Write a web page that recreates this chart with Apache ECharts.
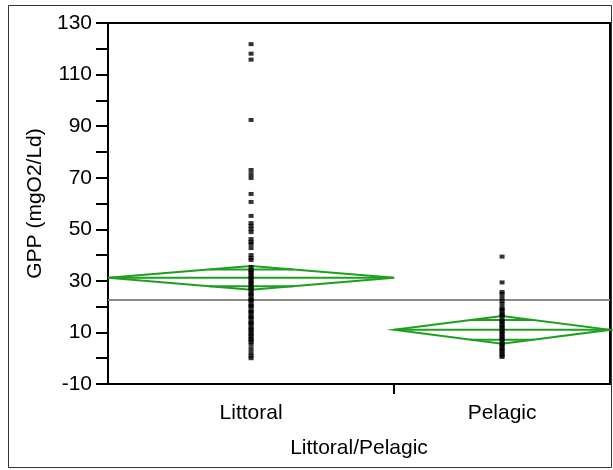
<!DOCTYPE html>
<html><head><meta charset="utf-8">
<script src="https://cdn.jsdelivr.net/npm/echarts@6/dist/echarts.min.js"></script>
<style>html,body{margin:0;padding:0;background:#fff}#c{width:613px;height:470px}</style>
</head><body><div id="c"></div>
<script>
// ---- data ----
const categories = ['Littoral', 'Pelagic'];
const groupWeights = [57, 43];           // relative group sizes (x widths)
const littoralValues = [121.8, 118.1, 115.8, 92.4, 73.0, 71.4, 69.9, 63.7, 60.6, 55.2,
  52.4, 51.3, 50.1, 48.9, 46.2, 45.1, 44.3, 42.7, 40.0, 38.9, 38.1, 35.4, 34.2,
  33.5, 33.0, 32.1, 31.4, 30.8, 29.9, 29.2, 28.6, 27.5, 27.0, 26.5, 25.2, 24.8, 24.3, 23.0,
  22.6, 22.1, 20.8, 20.3, 19.9, 18.5, 18.0, 17.6, 16.3, 15.9, 15.4, 14.1, 13.7, 13.2, 12.0,
  11.4, 10.8, 9.9, 9.2, 8.5, 7.6, 7.0, 6.3, 5.2, 3.6, 2.1, 0.9, 0.0];
const pelagicValues = [39.4, 29.4, 25.7, 24.9, 23.4, 22.2, 21.0, 19.5, 18.9, 18.4, 17.2,
  16.8, 16.3, 15.0, 14.4, 13.8, 12.9, 12.2, 11.6, 10.7, 10.1, 9.4, 8.5, 7.9, 7.2, 6.2, 5.5,
  4.9, 4.0, 3.3, 2.7, 1.8, 1.1, 0.5];
const groupMeans = [31.2, 11.0];
const groupCIHalf = [4.6, 5.4];
const grandMean = 22.6;
const yMin = -10, yMax = 130, yInterval = 20;

// ---- derived layout from data ----
const starts = [];
let acc = 0;
groupWeights.forEach(w => { starts.push(acc); acc += w; });
const total = acc;
const centers = starts.map((s, i) => s + groupWeights[i] / 2);
const boundaries = starts.slice(1);

const pointData = [];
[littoralValues, pelagicValues].forEach((arr, i) => arr.forEach(v => pointData.push([centers[i], v])));
const diamondData = categories.map((c, i) => [starts[i], starts[i] + groupWeights[i], groupMeans[i], groupCIHalf[i]]);

const FONT = "'Liberation Sans', Arial, sans-serif";
const GREEN = '#1f9f1f';
const FS = 21;

const chart = echarts.init(document.getElementById('c'), null, {renderer: 'canvas'});
chart.setOption({
  animation: false,
  backgroundColor: '#fff',
  graphic: [{
    type: 'rect', shape: {x: 8.5, y: 5.5, width: 603, height: 462},
    style: {fill: 'none', stroke: '#333', lineWidth: 1}, silent: true, z: -10
  }],
  grid: {left: 108, top: 23, right: 3, bottom: 86, show: true, borderColor: '#000', borderWidth: 2},
  xAxis: {
    type: 'value', min: 0, max: total,
    name: 'Littoral/Pelagic', nameLocation: 'middle', nameGap: 54,
    nameTextStyle: {color: '#000', fontSize: FS, fontFamily: FONT},
    axisLine: {show: true, onZero: false, lineStyle: {color: '#000', width: 2}},
    axisTick: {show: true, length: 10, lineStyle: {color: '#000', width: 2}, customValues: boundaries},
    axisLabel: {
      show: true, color: '#000', fontSize: FS, fontFamily: FONT, margin: 19,
      customValues: centers,
      formatter: v => { const i = centers.findIndex(c => Math.abs(c - v) < 1e-6); return i >= 0 ? categories[i] : ''; }
    },
    splitLine: {show: false}
  },
  yAxis: {
    type: 'value', min: yMin, max: yMax, interval: yInterval,
    name: 'GPP (mgO2/Ld)', nameLocation: 'middle', nameGap: 55,
    nameTextStyle: {color: '#000', fontSize: FS, fontFamily: FONT},
    axisLine: {show: true, onZero: false, lineStyle: {color: '#000', width: 2}},
    axisTick: {show: true, length: 12, lineStyle: {color: '#000', width: 2}},
    minorTick: {show: true, splitNumber: 2, length: 12, lineStyle: {color: '#000', width: 2}},
    axisLabel: {color: '#000', fontSize: FS, fontFamily: FONT, margin: 16},
    splitLine: {show: false}
  },
  series: [
    {
      type: 'custom', z: 2,
      data: diamondData,
      renderItem: function (params, api) {
        const x0 = api.value(0), x1 = api.value(1), m = api.value(2), h = api.value(3);
        const xc = (x0 + x1) / 2, w = x1 - x0;
        const k = 1 / Math.SQRT2;
        const hw = (w / 2) * (1 - k);
        const L = api.coord([x0, m]), R = api.coord([x1, m]);
        const T = api.coord([xc, m + h]), B = api.coord([xc, m - h]);
        const o1a = api.coord([xc - hw, m + h * k]), o1b = api.coord([xc + hw, m + h * k]);
        const o2a = api.coord([xc - hw, m - h * k]), o2b = api.coord([xc + hw, m - h * k]);
        const st = {stroke: GREEN, lineWidth: 2, fill: 'none'};
        return {
          type: 'group',
          children: [
            {type: 'polygon', shape: {points: [L, T, R, B]}, style: st},
            {type: 'line', shape: {x1: L[0], y1: L[1], x2: R[0], y2: R[1]}, style: st},
            {type: 'line', shape: {x1: o1a[0], y1: o1a[1], x2: o1b[0], y2: o1b[1]}, style: st},
            {type: 'line', shape: {x1: o2a[0], y1: o2a[1], x2: o2b[0], y2: o2b[1]}, style: st}
          ]
        };
      }
    },
    {
      type: 'scatter', z: 3,
      symbol: 'rect', symbolSize: [5, 4],
      itemStyle: {color: '#000'},
      data: pointData,
      markLine: {
        silent: true, symbol: 'none', z: 1,
        label: {show: false},
        lineStyle: {color: '#8a8a8a', width: 2, type: 'solid'},
        data: [{yAxis: grandMean}]
      }
    }
  ]
});
</script>
</body></html>
